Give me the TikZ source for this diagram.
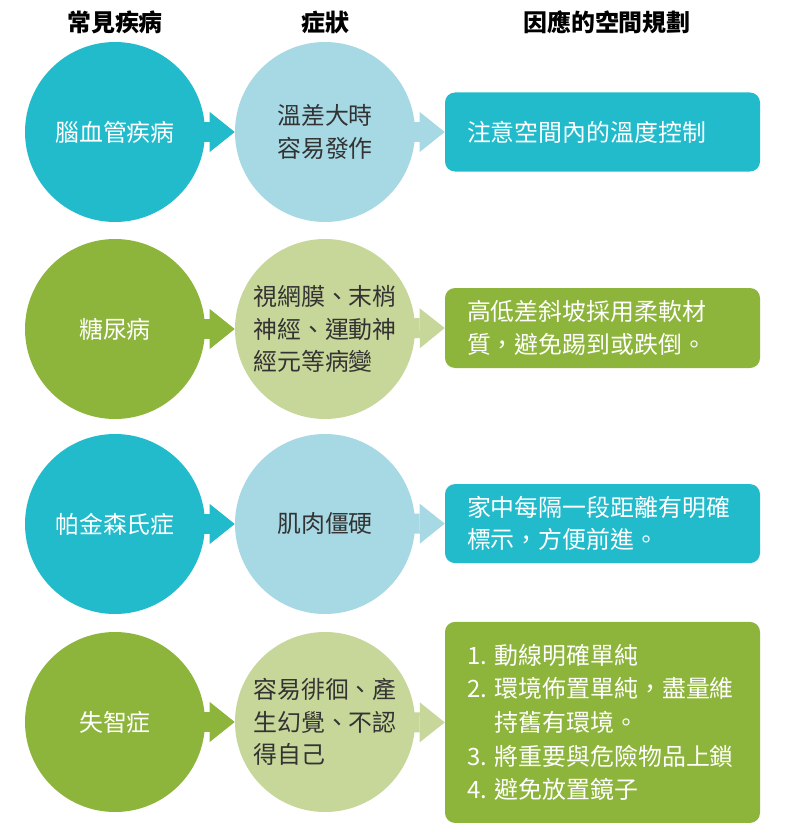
\documentclass[tikz,border=0pt]{standalone}
\usepackage{fontspec}
\setmainfont{Noto Sans CJK TC}
\usepackage{xcolor}
\usepackage{tikz}
\usetikzlibrary{arrows.meta, positioning, backgrounds}

\definecolor{tealc}{RGB}{33,187,204}
\definecolor{tealpale}{RGB}{166,217,228}
\definecolor{greenc}{RGB}{141,180,59}
\definecolor{greenpale}{RGB}{199,214,153}
\definecolor{inkgray}{RGB}{51,51,51}

\begin{document}
\begin{tikzpicture}[
    heading/.style={font=\bfseries\fontsize{17pt}{20pt}\selectfont, text=black},
    disease/.style={circle, minimum size=4.5cm, inner sep=0pt, align=center, text=white, font=\fontsize{17pt}{23pt}\selectfont},
    symptom/.style={circle, minimum size=4.5cm, inner sep=0pt, align=left, text=inkgray, font=\fontsize{17pt}{23pt}\selectfont},
    plan/.style={rectangle, rounded corners=0.25cm, minimum height=1.975cm, text width=6.775cm, inner xsep=0.55cm, align=left, text=white, font=\fontsize{17pt}{23pt}\selectfont},
    flow/.style={line width=0.5cm, -{Triangle[length=0.625cm, width=1cm, line width=0pt]}}
]
\useasboundingbox (0,0) rectangle (19.675,-20.875);

% Headings
\node[heading] (hdisease) at (2.875, -0.55) {常見疾病};
\node[heading] (hsymptom) at (8.125, -0.55) {症狀};
\node[heading] (hplan) at (15.175, -0.55) {因應的空間規劃};

% Row 1
\node[disease, fill=tealc] (stroke) at (2.875, -3.3) {腦血管疾病};
\node[symptom, fill=tealpale] (strokesym) at (8.125, -3.3) {溫差大時\\容易發作};
\node[plan, fill=tealc] (strokeplan) at (15.0625, -3.3) {注意空間內的溫度控制};

% Row 2
\node[disease, fill=greenc] (diabetes) at (2.875, -8.225) {糖尿病};
\node[symptom, fill=greenpale] (diabetessym) at (8.125, -8.225) {視網膜、末梢\\神經、運動神\\經元等病變};
\node[plan, fill=greenc, minimum height=2cm] (diabetesplan) at (15.0625, -8.2) {高低差斜坡採用柔軟材\\質，避免踢到或跌倒。};

% Row 3
\node[disease, fill=tealc] (parkinson) at (2.875, -13.1) {帕金森氏症};
\node[symptom, fill=tealpale] (parkinsonsym) at (8.125, -13.1) {肌肉僵硬};
\node[plan, fill=tealc] (parkinsonplan) at (15.0625, -13.09) {家中每隔一段距離有明確\\標示，方便前進。};

% Row 4
\node[disease, fill=greenc] (dementia) at (2.875, -18.05) {失智症};
\node[symptom, fill=greenpale] (dementiasym) at (8.125, -18.05) {容易徘徊、產\\生幻覺、不認\\得自己};
\node[plan, fill=greenc, minimum height=5.025cm, font=\fontsize{17pt}{24pt}\selectfont] (dementiaplan) at (15.0625, -18.06) {1.~動線明確單純\\2.~環境佈置單純，盡量維\\\phantom{2.~}持舊有環境。\\3.~將重要與危險物品上鎖\\4.~避免放置鏡子};

% Arrows
\begin{scope}[on background layer]
\draw[flow, tealc] (stroke.center) -- (strokesym.west);
\draw[flow, tealpale] (strokesym.center) -- (strokeplan.west);
\draw[flow, greenc] (diabetes.center) -- (diabetessym.west);
\draw[flow, greenpale] (diabetessym.center) -- (diabetesplan.west);
\draw[flow, tealc] (parkinson.center) -- (parkinsonsym.west);
\draw[flow, tealpale] (parkinsonsym.center) -- (parkinsonplan.west);
\draw[flow, greenc] (dementia.center) -- (dementiasym.west);
\draw[flow, greenpale] (dementiasym.center) -- (dementiaplan.west);
\end{scope}

\end{tikzpicture}
\end{document}
